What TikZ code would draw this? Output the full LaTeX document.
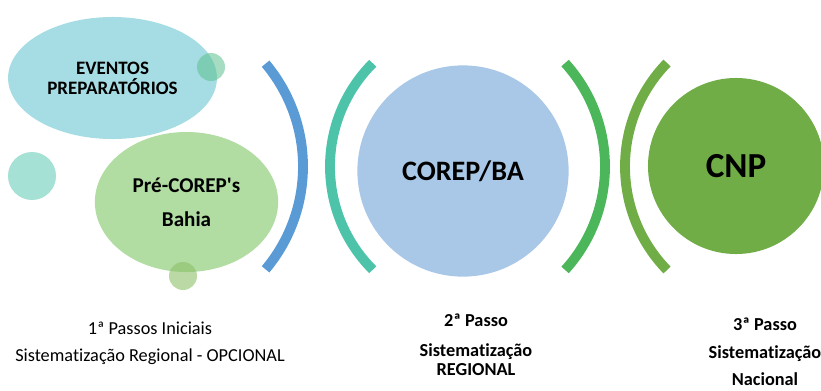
\documentclass[tikz,border=0pt]{standalone}
\usepackage{fontspec}
\setmainfont{Carlito}[Ligatures={TeX,CommonOff}]
\usetikzlibrary{shapes.geometric}
\definecolor{evcyan}{HTML}{A6DCE3}
\definecolor{prgreen}{HTML}{A8D898}
\definecolor{crblue}{HTML}{A9C8E8}
\definecolor{cnpgreen}{HTML}{70AD47}
\definecolor{arcblue}{HTML}{5B9BD5}
\definecolor{arcteal}{HTML}{4DC4A9}
\definecolor{arcgreen}{HTML}{4CB65A}
\definecolor{dotmint}{HTML}{5CC08F}
\definecolor{dotleaf}{HTML}{8CC068}
\definecolor{dotaqua}{HTML}{A6E1D6}

\begin{document}
\begin{tikzpicture}[x=0.025cm, y=-0.025cm,
    bubble/.style={ellipse, inner sep=0pt, align=center, font=\bfseries},
    ball/.style={circle, inner sep=0pt, align=center},
    ring/.style={line width=7pt},
    steptext/.style={align=center, inner sep=0pt}]
    \useasboundingbox (0,0) rectangle (821,390);
    % first step
    \node[bubble, fill=evcyan, minimum width=5.22cm, minimum height=3.05cm,
          font=\bfseries\fontsize{13.5}{14}\selectfont] (eventos) at (112.5,78)
      {EVENTOS\\PREPARATÓRIOS};
    \node[bubble, fill=prgreen, fill opacity=0.9, text opacity=1,
          minimum width=4.58cm, minimum height=3.5cm,
          font=\bfseries\fontsize{15}{24}\selectfont] (precorep) at (186.5,202)
      {Pré-COREP\textquotesingle s\\Bahia};
    \node[ball, fill=dotmint, fill opacity=0.55, minimum size=0.7cm] (dotA) at (211,67) {};
    \node[ball, fill=dotaqua, minimum size=1.2cm] (dotB) at (32,176) {};
    \node[ball, fill=dotleaf, fill opacity=0.6, minimum size=0.7cm] (dotC) at (183,276) {};
    \draw[ring, arcblue] (143,166.5) ++(-40:160) arc[start angle=-40, end angle=40, radius=160];
    % second step
    \draw[ring, arcteal] (476,166.5) ++(135:146) arc[start angle=135, end angle=225, radius=146];
    \node[ball, fill=crblue, minimum size=5.28cm,
          font=\bfseries\fontsize{20}{24}\selectfont] (corep) at (463,171) {COREP/BA};
    \draw[ring, arcgreen] (451,166.5) ++(-42.2:154) arc[start angle=-42.2, end angle=42.2, radius=154];
    % third step
    \draw[ring, cnpgreen] (773.5,166.5) ++(135.8:148.5) arc[start angle=135.8, end angle=224.2, radius=148.5];
    \node[ball, fill=cnpgreen, minimum size=4.4cm,
          font=\bfseries\fontsize{25}{28}\selectfont] (cnp) at (736,166) {CNP};
    % captions
    \node[steptext, font=\fontsize{13}{19}\selectfont] (passo1) at (150,343)
      {1ª Passos Iniciais\\Sistematização Regional - OPCIONAL};
    \node[steptext, font=\bfseries\fontsize{13}{14}\selectfont] (passo2) at (476,345)
      {2ª Passo\\[7pt]Sistematização\\REGIONAL};
    \node[steptext, font=\bfseries\fontsize{13}{19.5}\selectfont] (passo3) at (765,352)
      {3ª Passo\\Sistematização\\Nacional};
\end{tikzpicture}
\end{document}
